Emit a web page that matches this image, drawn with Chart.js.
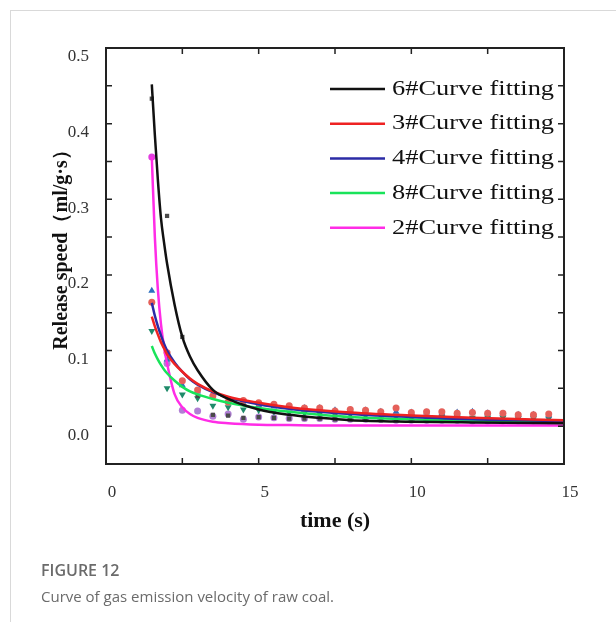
<!DOCTYPE html>
<html>
<head>
<meta charset="utf-8">
<script src="https://cdn.jsdelivr.net/npm/chart.js@4.4.0/dist/chart.umd.min.js"></script>
<style>
  body { margin: 0; background: #fff; }
  #card { position: absolute; left: 10px; top: 10px; width: 606px; height: 612px;
          border-top: 1px solid #d9d9d9; border-left: 1px solid #d9d9d9; }
  #chart { position: absolute; left: 0; top: 0; }
  .cap { position: absolute; left: 41px; font-family: "Open Sans", sans-serif; color: #6b6b6b; line-height: 20px; white-space: nowrap; }
  #fig { top: 560px; font-size: 16px; font-weight: 600; }
  #txt { top: 586px; font-size: 15px; }
</style>
</head>
<body>
<div id="card"></div>
<canvas id="chart" width="616" height="622"></canvas>
<div class="cap" id="fig">FIGURE 12</div>
<div class="cap" id="txt">Curve of gas emission velocity of raw coal.</div>
<script>
'use strict';

// sample times (s) of the measured points
const pointTimes = [1.5, 2, 2.5, 3, 3.5, 4, 4.5, 5, 5.5, 6, 6.5, 7, 7.5, 8, 8.5,
                    9, 9.5, 10, 10.5, 11, 11.5, 12, 12.5, 13, 13.5, 14, 14.5];
// measured release speed (ml/g.s)
const pts6 = [0.433, 0.278, 0.118, 0.040, 0.015, 0.014, 0.011, 0.012, 0.011, 0.010, 0.010, 0.010, 0.009, 0.009,
              0.009, 0.008, 0.008, 0.008, 0.008, 0.007, 0.007, 0.007, 0.007, 0.006, 0.006, 0.006, 0.006];
const pts3 = [0.164, 0.097, 0.060, 0.048, 0.040, 0.032, 0.034, 0.031, 0.029, 0.027, 0.024, 0.024, 0.020, 0.022,
              0.021, 0.019, 0.024, 0.018, 0.019, 0.019, 0.017, 0.018, 0.017, 0.017, 0.015, 0.015, 0.016];
const pts4 = [0.179, 0.088, 0.054, 0.046, 0.043, 0.035, 0.030, 0.028, 0.026, 0.025, 0.024, 0.024, 0.021, 0.021,
              0.021, 0.019, 0.019, 0.018, 0.018, 0.017, 0.018, 0.019, 0.017, 0.016, 0.015, 0.015, 0.014];
const pts8 = [0.126, 0.050, 0.042, 0.037, 0.027, 0.025, 0.022, 0.021, 0.019, 0.018, 0.017, 0.016, 0.015, 0.015,
              0.014, 0.014, 0.013, 0.013, 0.012, 0.012, 0.012, 0.011, 0.011, 0.011, 0.010, 0.010, 0.010];
const pts2 = [0.356, 0.083, 0.021, 0.020, 0.013, 0.016, 0.009, 0.012, 0.011, 0.010, 0.010, 0.010, 0.009, 0.009,
              0.009, 0.009, 0.008, 0.008, 0.008, 0.008, 0.008, 0.007, 0.007, 0.007, 0.007, 0.007, 0.007];

// fitted curves
const fitTimes = [1.5, 1.6, 1.7, 1.8, 1.9, 2, 2.25, 2.5, 2.75, 3, 3.5, 4, 5, 6, 7, 8, 10, 12, 15];
const fit6 = [0.452, 0.385, 0.325, 0.275, 0.243, 0.215, 0.160, 0.118, 0.092, 0.074, 0.048, 0.036, 0.022, 0.015, 0.011, 0.008, 0.006, 0.005, 0.004];
const fit3 = [0.145, 0.132, 0.121, 0.111, 0.103, 0.095, 0.082, 0.072, 0.063, 0.056, 0.046, 0.039, 0.031, 0.025, 0.021, 0.018, 0.014, 0.011, 0.008];
const fit4 = [0.163, 0.146, 0.132, 0.120, 0.109, 0.100, 0.084, 0.072, 0.062, 0.055, 0.045, 0.038, 0.029, 0.023, 0.019, 0.016, 0.012, 0.009, 0.007];
const fit8 = [0.106, 0.096, 0.088, 0.081, 0.075, 0.070, 0.060, 0.052, 0.046, 0.042, 0.036, 0.031, 0.024, 0.019, 0.015, 0.012, 0.009, 0.007, 0.005];
const fit2 = [0.356, 0.250, 0.180, 0.135, 0.105, 0.083, 0.042, 0.025, 0.016, 0.011, 0.006, 0.004, 0.002, 0.0015, 0.001, 0.001, 0.001, 0.001, 0.001];

const legendNames = ['6#Curve fitting', '3#Curve fitting', '4#Curve fitting', '8#Curve fitting', '2#Curve fitting'];
const lineColors = ['#111111', '#ee2222', '#2b2ba6', '#19e35a', '#ff2ce6'];
const xTickLabels = ['0', '5', '10', '15'];
const yTickLabels = ['0.0', '0.1', '0.2', '0.3', '0.4', '0.5'];
const yTitle = 'Release speed（ml/g·s）';

function toXY(xs, ys) {
  return xs.map((x, i) => ({x: x, y: ys[i]}));
}

function fitSet(label, ys, color) {
  return {
    label: label, data: toXY(fitTimes, ys), showLine: true, borderColor: color,
    borderWidth: 2.5, pointRadius: 0, cubicInterpolationMode: 'monotone', fill: false
  };
}

function pointSet(ys, color, style, rot, r) {
  return {
    data: toXY(pointTimes, ys), showLine: false, pointStyle: style, rotation: rot,
    pointRadius: r, backgroundColor: color, borderColor: color, borderWidth: 0
  };
}

const serif = '"Liberation Serif", "Times New Roman", serif';

const boxPlugin = {
  id: 'box',
  afterDraw: function(chart) {
    const ctx = chart.ctx, a = chart.chartArea, x = chart.scales.x, y = chart.scales.y;
    ctx.save();
    ctx.strokeStyle = '#222';
    ctx.lineWidth = 2;
    ctx.strokeRect(a.left, a.top, a.right - a.left, a.bottom - a.top);
    ctx.lineWidth = 1.5;
    ctx.beginPath();
    x.ticks.forEach(function(t) {
      const px = x.getPixelForValue(t.value);
      ctx.moveTo(px, a.bottom); ctx.lineTo(px, a.bottom - 6);
      ctx.moveTo(px, a.top); ctx.lineTo(px, a.top + 6);
    });
    y.ticks.forEach(function(t) {
      const py = y.getPixelForValue(t.value);
      ctx.moveTo(a.left, py); ctx.lineTo(a.left + 6, py);
      ctx.moveTo(a.right, py); ctx.lineTo(a.right - 6, py);
    });
    ctx.stroke();

    // y axis title, a little above the centre like the original
    ctx.save();
    ctx.translate(62, 245);
    ctx.rotate(-Math.PI / 2);
    ctx.font = 'bold 20px ' + serif;
    ctx.fillStyle = '#111';
    ctx.textAlign = 'center';
    ctx.textBaseline = 'middle';
    ctx.fillText(yTitle, 0, 0);
    ctx.restore();

    // legend inside the plot
    ctx.font = '22px ' + serif;
    ctx.fillStyle = '#111';
    ctx.textBaseline = 'middle';
    legendNames.forEach(function(name, i) {
      const ly = a.top + 41 + i * 34.7;
      ctx.strokeStyle = lineColors[i];
      ctx.lineWidth = 2.5;
      ctx.beginPath();
      ctx.moveTo(a.left + 224, ly);
      ctx.lineTo(a.left + 279, ly);
      ctx.stroke();
      ctx.save();
      ctx.translate(a.left + 286, ly);
      ctx.scale(1.2, 1);
      ctx.fillText(name, 0, 0);
      ctx.restore();
    });
    ctx.restore();
  }
};

const set2 = pointSet(pts2, '#b07fd4', 'circle', 0, 3.5);
set2.backgroundColor = pts2.map((v, i) => i === 0 ? '#e23ee0' : '#b07fd4');

new Chart(document.getElementById('chart'), {
  type: 'scatter',
  data: {
    datasets: [
      fitSet(legendNames[0], fit6, lineColors[0]),
      fitSet(legendNames[1], fit3, lineColors[1]),
      fitSet(legendNames[2], fit4, lineColors[2]),
      fitSet(legendNames[3], fit8, lineColors[3]),
      fitSet(legendNames[4], fit2, lineColors[4]),
      pointSet(pts6, '#4a4a4a', 'rect', 0, 3),
      pointSet(pts3, '#e5605a', 'circle', 0, 3.5),
      pointSet(pts4, '#2c6fbf', 'triangle', 0, 4),
      pointSet(pts8, '#1f8a6a', 'triangle', 180, 4),
      set2
    ]
  },
  options: {
    responsive: false,
    animation: false,
    devicePixelRatio: 1,
    layout: { padding: { top: 48, right: 52, bottom: 0, left: 0 } },
    plugins: { legend: { display: false }, tooltip: { enabled: false } },
    scales: {
      x: {
        type: 'linear', min: 0, max: 15,
        grid: { display: false }, border: { display: false },
        afterFit: function(s) { s.height = 158; },
        ticks: {
          stepSize: 2.5, autoSkip: false, maxRotation: 0, padding: 10, labelOffset: 6,
          color: '#333', font: { family: serif, size: 17 },
          callback: function(v) { const s = String(v); return xTickLabels.includes(s) ? s : ''; }
        },
        title: { display: true, text: 'time (s)', color: '#111',
                 font: { family: serif, size: 22, weight: 'bold' }, padding: { top: 0, bottom: 87 } }
      },
      y: {
        type: 'linear', min: -0.05, max: 0.5,
        grid: { display: false }, border: { display: false },
        afterFit: function(s) { s.width = 106; },
        ticks: {
          stepSize: 0.05, autoSkip: false, padding: 9, labelOffset: 9,
          color: '#333', font: { family: serif, size: 17 },
          callback: function(v) {
            const s = v.toFixed(1);
            return (yTickLabels.includes(s) && Math.abs(v - parseFloat(s)) < 1e-6) ? s : '';
          }
        }
      }
    }
  },
  plugins: [boxPlugin]
});
</script>
</body>
</html>
